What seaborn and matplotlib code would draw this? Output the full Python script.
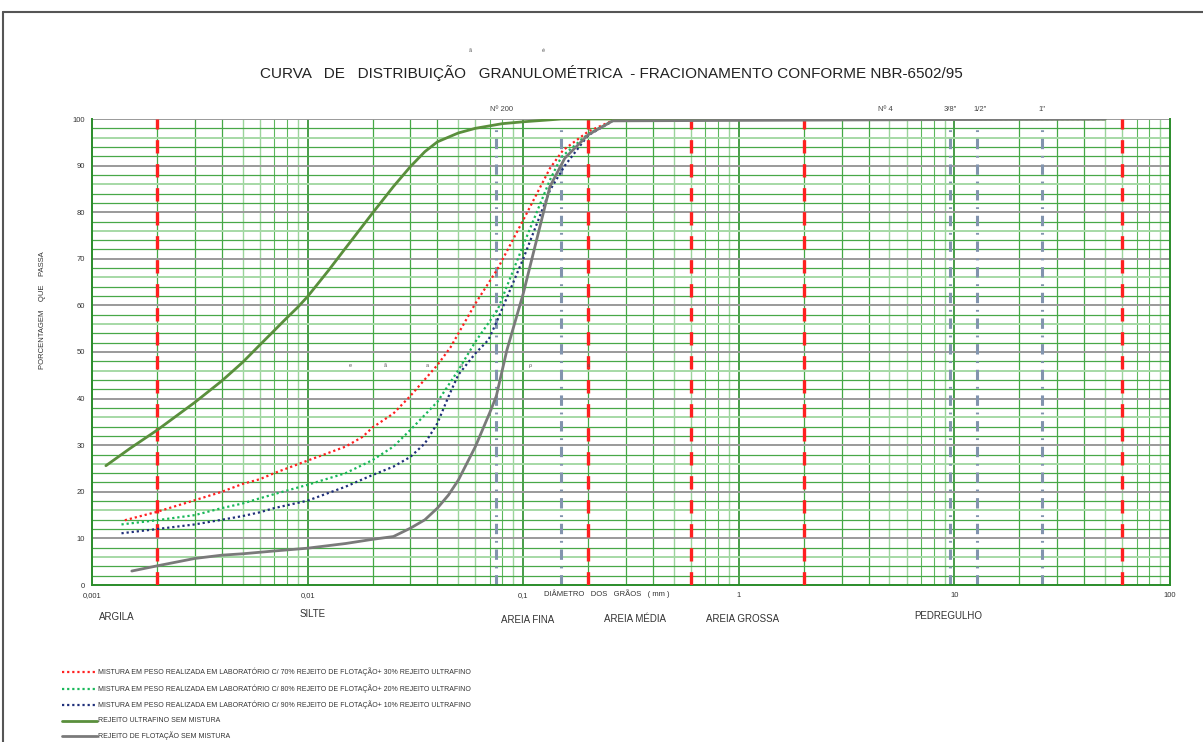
import numpy as np
import matplotlib
matplotlib.use("Agg")
import matplotlib.pyplot as plt
from matplotlib.lines import Line2D
import seaborn as sns

# ── Data ───────────────────────────────────────────────────────────────────────
diam_ultrafino = [0.00116, 0.0015, 0.002, 0.003, 0.004, 0.005, 0.006, 0.007, 0.008, 0.009,
                  0.01, 0.0125, 0.015, 0.02, 0.025, 0.03, 0.035, 0.04, 0.05, 0.06, 0.08,
                  0.1, 0.15, 50]
pct_ultrafino = [25.6, 29.3, 33.2, 39.2, 43.8, 47.8, 51.5, 54.6, 57.3, 59.6,
                 61.9, 67.5, 72.3, 79.8, 85.5, 89.8, 93.0, 95.1, 97.0, 98.0, 99.0,
                 99.4, 100, 100]

diam_70_30 = [0.00142, 0.002, 0.003, 0.004, 0.005, 0.006, 0.007, 0.01, 0.015, 0.018, 0.02,
              0.025, 0.03, 0.04, 0.046, 0.06, 0.076, 0.1, 0.133, 0.153, 0.2, 0.27, 50]
pct_70_30 = [13.9, 15.7, 18.2, 20.0, 21.7, 22.7, 24.0, 26.7, 29.7, 31.8, 33.8,
             36.8, 40.6, 47.2, 51.0, 60.4, 67.8, 78.3, 89.4, 93.3, 97.3, 100, 100]

diam_80_20 = [0.00137, 0.002, 0.003, 0.004, 0.005, 0.006, 0.007, 0.01, 0.015, 0.02, 0.025,
              0.03, 0.04, 0.05, 0.06, 0.076, 0.1, 0.133, 0.15, 0.2, 0.27, 50]
pct_80_20 = [13.0, 13.9, 15.0, 16.5, 17.5, 18.6, 19.5, 21.5, 24.0, 26.8, 29.7,
             33.3, 39.3, 46.1, 52.2, 59.0, 72.9, 86.9, 91.8, 96.8, 100, 100]

diam_90_10 = [0.00137, 0.002, 0.003, 0.004, 0.005, 0.006, 0.007, 0.01, 0.015, 0.02, 0.025,
              0.03, 0.035, 0.04, 0.045, 0.05, 0.06, 0.069, 0.076, 0.1, 0.133, 0.156, 0.2, 0.27, 50]
pct_90_10 = [11.1, 12.0, 13.0, 14.0, 14.8, 15.6, 16.5, 18.1, 21.1, 23.6, 25.4,
             27.5, 30.4, 34.7, 40.4, 45.1, 49.7, 52.6, 56.9, 70.0, 84.7, 90.0, 96.5, 100, 100]

diam_flotacao = [0.00153, 0.002, 0.003, 0.004, 0.005, 0.007, 0.01, 0.015, 0.02, 0.025, 0.03,
                 0.035, 0.04, 0.045, 0.05, 0.06, 0.07, 0.075, 0.084, 0.1, 0.133, 0.156, 0.2, 0.26, 50]
pct_flotacao = [3.0, 4.1, 5.7, 6.4, 6.7, 7.3, 7.9, 8.9, 9.8, 10.4, 12.2,
                14.0, 16.5, 19.3, 22.5, 29.7, 37.0, 40.5, 50.4, 62.5, 85.5, 91.6, 96.6, 99.6, 100]

labels = [
    "MISTURA EM PESO REALIZADA EM LABORATÓRIO C/ 70% REJEITO DE FLOTAÇÃO+ 30% REJEITO ULTRAFINO",
    "MISTURA EM PESO REALIZADA EM LABORATÓRIO C/ 80% REJEITO DE FLOTAÇÃO+ 20% REJEITO ULTRAFINO",
    "MISTURA EM PESO REALIZADA EM LABORATÓRIO C/ 90% REJEITO DE FLOTAÇÃO+ 10% REJEITO ULTRAFINO",
    "REJEITO ULTRAFINO SEM MISTURA",
    "REJEITO DE FLOTAÇÃO SEM MISTURA",
]

# NBR-6502 fraction boundaries (mm) and sieve openings (mm)
limites = [0.002, 0.2, 0.6, 2.0, 60]
peneiras = [0.075, 0.15, 9.5, 12.7, 25.4]
peneira_rotulos = ["Nº 200", "Nº 4", "3/8\"", "1/2\"", "1\""]
peneira_rot_x = [0.079, 4.76, 9.6, 13.2, 25.6]

fracoes = ["ARGILA", "SILTE", "AREIA FINA", "AREIA MÉDIA", "AREIA GROSSA", "PEDREGULHO"]
fracoes_x = [0.00131, 0.0105, 0.105, 0.33, 1.04, 9.4]
fracoes_y = [-0.069, -0.063, -0.075, -0.073, -0.073, -0.067]

# ── Style ──────────────────────────────────────────────────────────────────────
sns.set_style("white")
plt.rcParams["font.family"] = ["Liberation Sans", "DejaVu Sans"]

COL_RED = "#ff2020"
COL_GRN_DOT = "#19b85a"
COL_NAVY = "#1f2f7a"
COL_GRN = "#5a8f3c"
COL_GRAY = "#7a7a7a"
COL_SIEVE = "#8294ae"
W, H = 1203, 742

fig = plt.figure(figsize=(W / 100, H / 100), dpi=100)
ax = fig.add_axes([92 / W, 1 - 585 / H, (1170 - 92) / W, (585 - 119) / H])
ax.set_xscale("log")
ax.set_xlim(0.001, 100)
ax.set_ylim(0, 100)

# grid: vertical log lines
for dec in [0.001, 0.01, 0.1, 1, 10]:
    for k in range(2, 10):
        if k in (2, 3, 4):
            c, lw = "#45a845", 0.9
        elif k in (7, 8):
            c, lw = "#5cb85c", 0.8
        else:
            c, lw = "#9bd49b", 1.0
        ax.axvline(dec * k, color=c, lw=lw, zorder=1)
for dec in [0.01, 0.1, 1, 10]:
    ax.axvline(dec, color="#2a8c2a", lw=1.2, zorder=1)

# grid: horizontal lines
for v in range(2, 100, 2):
    if v % 10 == 0:
        continue
    if v % 10 == 6:
        ax.axhline(v, color="#a6d9a6", lw=1.4, zorder=1)
    else:
        ax.axhline(v, color="#48a848", lw=0.9, zorder=1)
for v in range(10, 101, 10):
    ax.axhline(v, color="#9a9a9a", lw=1.4, zorder=1.5)

# sieve lines (dash-dot)
for p in peneiras:
    ax.plot([p, p], [0, 98.7], color=COL_SIEVE, lw=2.2,
            dashes=(3.4, 2.2, 0.6, 2.2), zorder=2)

# fraction boundaries (red dashed)
for lim in limites:
    ax.axvline(lim, color=COL_RED, lw=2.4, dashes=(4.0, 3.2), zorder=3)

# curves
series = [
    (diam_70_30, pct_70_30, COL_RED, (0, (1, 1.3)), 1.6),
    (diam_80_20, pct_80_20, COL_GRN_DOT, (0, (1, 1.3)), 1.6),
    (diam_90_10, pct_90_10, COL_NAVY, (0, (1, 1.3)), 1.6),
    (diam_ultrafino, pct_ultrafino, COL_GRN, "-", 2.0),
    (diam_flotacao, pct_flotacao, COL_GRAY, "-", 2.0),
]
for (dx, py, c, ls, lw), lab in zip(series, labels):
    sns.lineplot(x=dx, y=py, ax=ax, color=c, linestyle=ls, lw=lw,
                 sort=False, estimator=None, label=lab, legend=False, zorder=4)

# axes
for s in ["left", "bottom", "right"]:
    ax.spines[s].set_color("#2a8c2a")
    ax.spines[s].set_linewidth(1.4)
ax.spines["top"].set_visible(False)
ax.set_yticks(range(0, 101, 10))
ax.set_yticklabels([str(v) for v in range(0, 101, 10)], fontsize=5.5, color="#333333")
ax.set_xticks([0.001, 0.01, 0.1, 1, 10, 100])
ax.set_xticklabels(["0,001", "0,01", "0,1", "1", "10", "100"], fontsize=5.5, color="#333333")
ax.xaxis.set_minor_locator(matplotlib.ticker.NullLocator())
ax.tick_params(axis="both", length=2, color="#2a8c2a", pad=3)
ax.set_xlabel("")
ax.set_ylabel("")

# sieve labels above plot
for lab, x in zip(peneira_rotulos, peneira_rot_x):
    ax.text(x, 101.2, lab, fontsize=5.5, color="#444444", ha="center", va="bottom")

# fraction names
for nome, x, y in zip(fracoes, fracoes_x, fracoes_y):
    ax.text(x, y, nome, transform=ax.get_xaxis_transform(), fontsize=7,
            color="#333333", ha="center", va="center")

ax.text(0.245, -0.019, "DIÂMETRO   DOS   GRÃOS   ( mm )", transform=ax.get_xaxis_transform(),
        fontsize=5.5, color="#333333", ha="center", va="center")

# stray glyphs from the original sheet
for x, ch in zip([0.0158, 0.0228, 0.036, 0.0515, 0.108, 0.2], ["e", "ã", "a", "a", "ρ", "a"]):
    ax.text(x, 47.2, ch, fontsize=4, color="#555555", ha="center", va="center")
fig.text(470 / W, 1 - 50 / H, "ã", fontsize=4, color="#555555", ha="center", va="center")
fig.text(543 / W, 1 - 50 / H, "é", fontsize=4, color="#555555", ha="center", va="center")

# titles
fig.text(611 / W, 1 - 73 / H,
         "CURVA   DE   DISTRIBUIÇÃO   GRANULOMÉTRICA  - FRACIONAMENTO CONFORME NBR-6502/95",
         fontsize=11, color="#222222", ha="center", va="center")
fig.text(43 / W, 1 - 310 / H, "PORCENTAGEM    QUE    PASSA", rotation=90,
         fontsize=5.5, color="#333333", ha="center", va="center")

# legend (drawn by hand at the bottom-left)
leg_y = [672, 689, 705, 721, 736]
for (dx, py, c, ls, lw), lab, y in zip(series, labels, leg_y):
    fy = 1 - y / H
    fig.add_artist(Line2D([62 / W, 97 / W], [fy, fy], color=c, linestyle=ls,
                          lw=lw, transform=fig.transFigure))
    fig.text(98 / W, fy, lab, fontsize=5, color="#333333", ha="left", va="center")

# page border (top and left)
fig.add_artist(Line2D([3 / W, 1], [1 - 12 / H, 1 - 12 / H], color="#555555", lw=1.5,
                      transform=fig.transFigure))
fig.add_artist(Line2D([3 / W, 3 / W], [0, 1 - 12 / H], color="#555555", lw=1.5,
                      transform=fig.transFigure))

fig.savefig("out.png", dpi=100)
plt.close(fig)
